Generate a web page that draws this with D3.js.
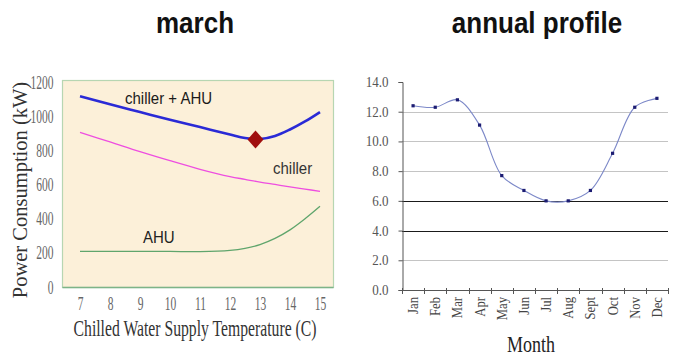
<!DOCTYPE html>
<html><head><meta charset="utf-8">
<script src="https://cdn.jsdelivr.net/npm/d3@7"></script>
<style>body{margin:0;background:#fff}svg{display:block}</style>
</head><body>
<svg id="c" width="673" height="356"></svg>
<script>
// ---- left chart data (march) ----
const temps = [7, 8, 9, 10, 11, 12, 12.5, 13, 13.5, 14, 14.5, 15];
const chillerAhu = [1122, 1075, 1030, 985, 942, 898, 878, 872, 890, 928, 975, 1030];
const chiller = [911, 855, 798, 745, 695, 652, 636, 620, 606, 592, 579, 566];
const ahu = [214, 214, 214, 214, 213, 220, 232, 254, 290, 340, 405, 478];
const optimumT = [12.85];
const optimumV = [870];
const xTicksLeft = [7, 8, 9, 10, 11, 12, 13, 14, 15];
const yTicksLeft = [0, 200, 400, 600, 800, 1000, 1200];
// ---- right chart data (annual profile) ----
const months = ["Jan","Feb","Mar","Apr","May","Jun","Jul","Aug","Sept","Oct","Nov","Dec"];
const monthly = [12.4, 12.3, 12.8, 11.1, 7.7, 6.7, 6.0, 6.0, 6.7, 9.2, 12.3, 12.9];
const yTicksRight = [0, 2, 4, 6, 8, 10, 12, 14];
const darkGrid = [4, 6];

const svg = d3.select("#c");
const SERIF = "'Liberation Serif','Times New Roman',serif";
const SANS = "'Liberation Sans',Arial,sans-serif";

function stext(g, x, y, txt, o) {
  return g.append("text")
    .attr("transform", `translate(${x},${y}) scale(1,${o.sy || 1})`)
    .attr("text-anchor", o.anchor || "middle")
    .attr("font-family", o.family || SANS)
    .attr("font-size", o.size)
    .attr("font-weight", o.weight || "normal")
    .attr("fill", o.fill || "#222")
    .text(txt);
}

// titles
stext(svg, 195, 33, "march", {size: 26, weight: "bold", sy: 1.12, fill: "#111"});
stext(svg, 537, 33, "annual profile", {size: 26, weight: "bold", sy: 1.12, fill: "#111"});

// ================= LEFT =================
const L = {x0: 62.5, x1: 333.5, y0: 80.5, y1: 287.5};
const xL = d3.scaleLinear().domain([7, 15]).range([80, 320]);
const yL = d3.scaleLinear().domain([0, 1200]).range([288, 83]);

const gl = svg.append("g");
gl.append("rect").attr("x", L.x0).attr("y", L.y0)
  .attr("width", L.x1 - L.x0).attr("height", L.y1 - L.y0)
  .attr("fill", "#fcf0d9").attr("stroke", "#b7d6b2").attr("stroke-width", 1.2);
gl.append("line").attr("x1", L.x0).attr("x2", L.x1).attr("y1", L.y1).attr("y2", L.y1)
  .attr("stroke", "#7db488").attr("stroke-width", 1.6);

const lineL = d3.line().x(d => xL(d[0])).y(d => yL(d[1])).curve(d3.curveCatmullRom.alpha(0.5));
const series = [
  {v: chiller, c: "#ee4ee0", w: 1.3},
  {v: ahu, c: "#5fa56c", w: 1.3},
  {v: chillerAhu, c: "#2a2ad6", w: 2.6}
];
series.forEach(s => {
  gl.append("path").datum(temps.map((t, i) => [t, s.v[i]]))
    .attr("d", lineL).attr("fill", "none").attr("stroke", s.c).attr("stroke-width", s.w);
});
gl.selectAll(".opt").data(optimumT).enter().append("path")
  .attr("d", "M0,-9 L8,0 L0,9 L-8,0 Z")
  .attr("transform", (d, i) => `translate(${xL(d)},${yL(optimumV[i])})`)
  .attr("fill", "#a00f0f");

stext(gl, 125, 104, "chiller + AHU", {size: 15, anchor: "start", sy: 1.08, fill: "#1a1a1a"});
stext(gl, 273, 174, "chiller", {size: 15, anchor: "start", sy: 1.08, fill: "#333"});
stext(gl, 143, 243, "AHU", {size: 15, anchor: "start", sy: 1.08, fill: "#222"});

// left axes (labels only)
const axYL = gl.append("g").attr("transform", `translate(${L.x0},0)`)
  .call(d3.axisLeft(yL).tickValues(yTicksLeft).tickSize(0).tickFormat(d3.format("d")));
axYL.select(".domain").remove();
axYL.selectAll("text").attr("x", null).attr("dy", null)
  .attr("transform", "translate(-9,5) scale(1,1.6)")
  .attr("font-family", SERIF).attr("font-size", 11.5).attr("fill", "#666").attr("text-anchor", "end");

const axXL = gl.append("g").attr("transform", `translate(0,${L.y1})`)
  .call(d3.axisBottom(xL).tickValues(xTicksLeft).tickSize(0).tickFormat(d3.format("d")));
axXL.select(".domain").remove();
axXL.selectAll("text").attr("y", null).attr("dy", null)
  .attr("transform", "translate(0,22.5) scale(1,1.65)")
  .attr("font-family", SERIF).attr("font-size", 11.5).attr("fill", "#666");

stext(gl, 195, 336, "Chilled Water Supply Temperature (C)", {size: 15.7, family: SERIF, sy: 1.45, fill: "#333"});
gl.append("text").attr("transform", "translate(27,190) rotate(-90)")
  .attr("text-anchor", "middle").attr("font-family", SERIF).attr("font-size", 20.5)
  .attr("fill", "#333").text("Power Consumption (kW)");

// ================= RIGHT =================
const R = {x0: 402, x1: 668, y0: 82, y1: 290};
const xR = d3.scaleBand().domain(months).range([R.x0, R.x1]);
const yR = d3.scaleLinear().domain([0, 14]).range([R.y1, R.y0]);
const gr = svg.append("g");

// gridlines
gr.selectAll(".grid").data(yTicksRight.filter(d => d > 0 && d < 14)).enter().append("line")
  .attr("x1", R.x0).attr("x2", R.x1)
  .attr("y1", d => Math.round(yR(d)) + 0.5).attr("y2", d => Math.round(yR(d)) + 0.5)
  .attr("stroke", d => darkGrid.includes(d) ? "#1a1a1a" : "#c4c4c4")
  .attr("stroke-width", d => darkGrid.includes(d) ? 1.1 : 1);

// y axis
const axYR = gr.append("g").attr("transform", `translate(${R.x0 + 0.5},0)`)
  .call(d3.axisLeft(yR).tickValues(yTicksRight).tickSize(4).tickFormat(d3.format(".1f")));
axYR.select(".domain").attr("stroke", "#555");
axYR.selectAll("line").attr("stroke", "#555");
axYR.selectAll("text").attr("x", null).attr("dy", null)
  .attr("transform", "translate(-14,4.5) scale(1,1.15)")
  .attr("font-family", SERIF).attr("font-size", 13).attr("fill", "#555").attr("text-anchor", "end");

// x axis
gr.append("line").attr("x1", R.x0).attr("x2", R.x1).attr("y1", R.y1 + 0.5).attr("y2", R.y1 + 0.5)
  .attr("stroke", "#555");
const bounds = months.map(m => xR(m)).concat([R.x1]);
gr.selectAll(".xt").data(bounds).enter().append("line")
  .attr("x1", d => Math.round(d) + 0.5).attr("x2", d => Math.round(d) + 0.5)
  .attr("y1", R.y1 - 2).attr("y2", R.y1 + 4).attr("stroke", "#555");
gr.selectAll(".ml").data(months).enter().append("text")
  .attr("transform", d => `translate(${xR(d) + xR.bandwidth() / 2},297) rotate(-90) scale(1,1.2)`)
  .attr("dy", "0.33em").attr("text-anchor", "end")
  .attr("font-family", SERIF).attr("font-size", 12.7).attr("fill", "#444").text(d => d);

stext(gr, 531, 352, "Month", {size: 18, family: SERIF, sy: 1.25, fill: "#222"});

// line + points
const lineR = d3.line().x((d, i) => xR(months[i]) + xR.bandwidth() / 2).y(d => yR(d))
  .curve(d3.curveCatmullRom.alpha(0.5));
gr.append("path").datum(monthly).attr("d", lineR).attr("fill", "none")
  .attr("stroke", "#7c88c8").attr("stroke-width", 1.1);
gr.selectAll(".pt").data(monthly).enter().append("rect")
  .attr("x", (d, i) => xR(months[i]) + xR.bandwidth() / 2 - 1.6)
  .attr("y", d => yR(d) - 1.6).attr("width", 3.2).attr("height", 3.2)
  .attr("fill", "#1c1c72");
</script>
</body></html>
